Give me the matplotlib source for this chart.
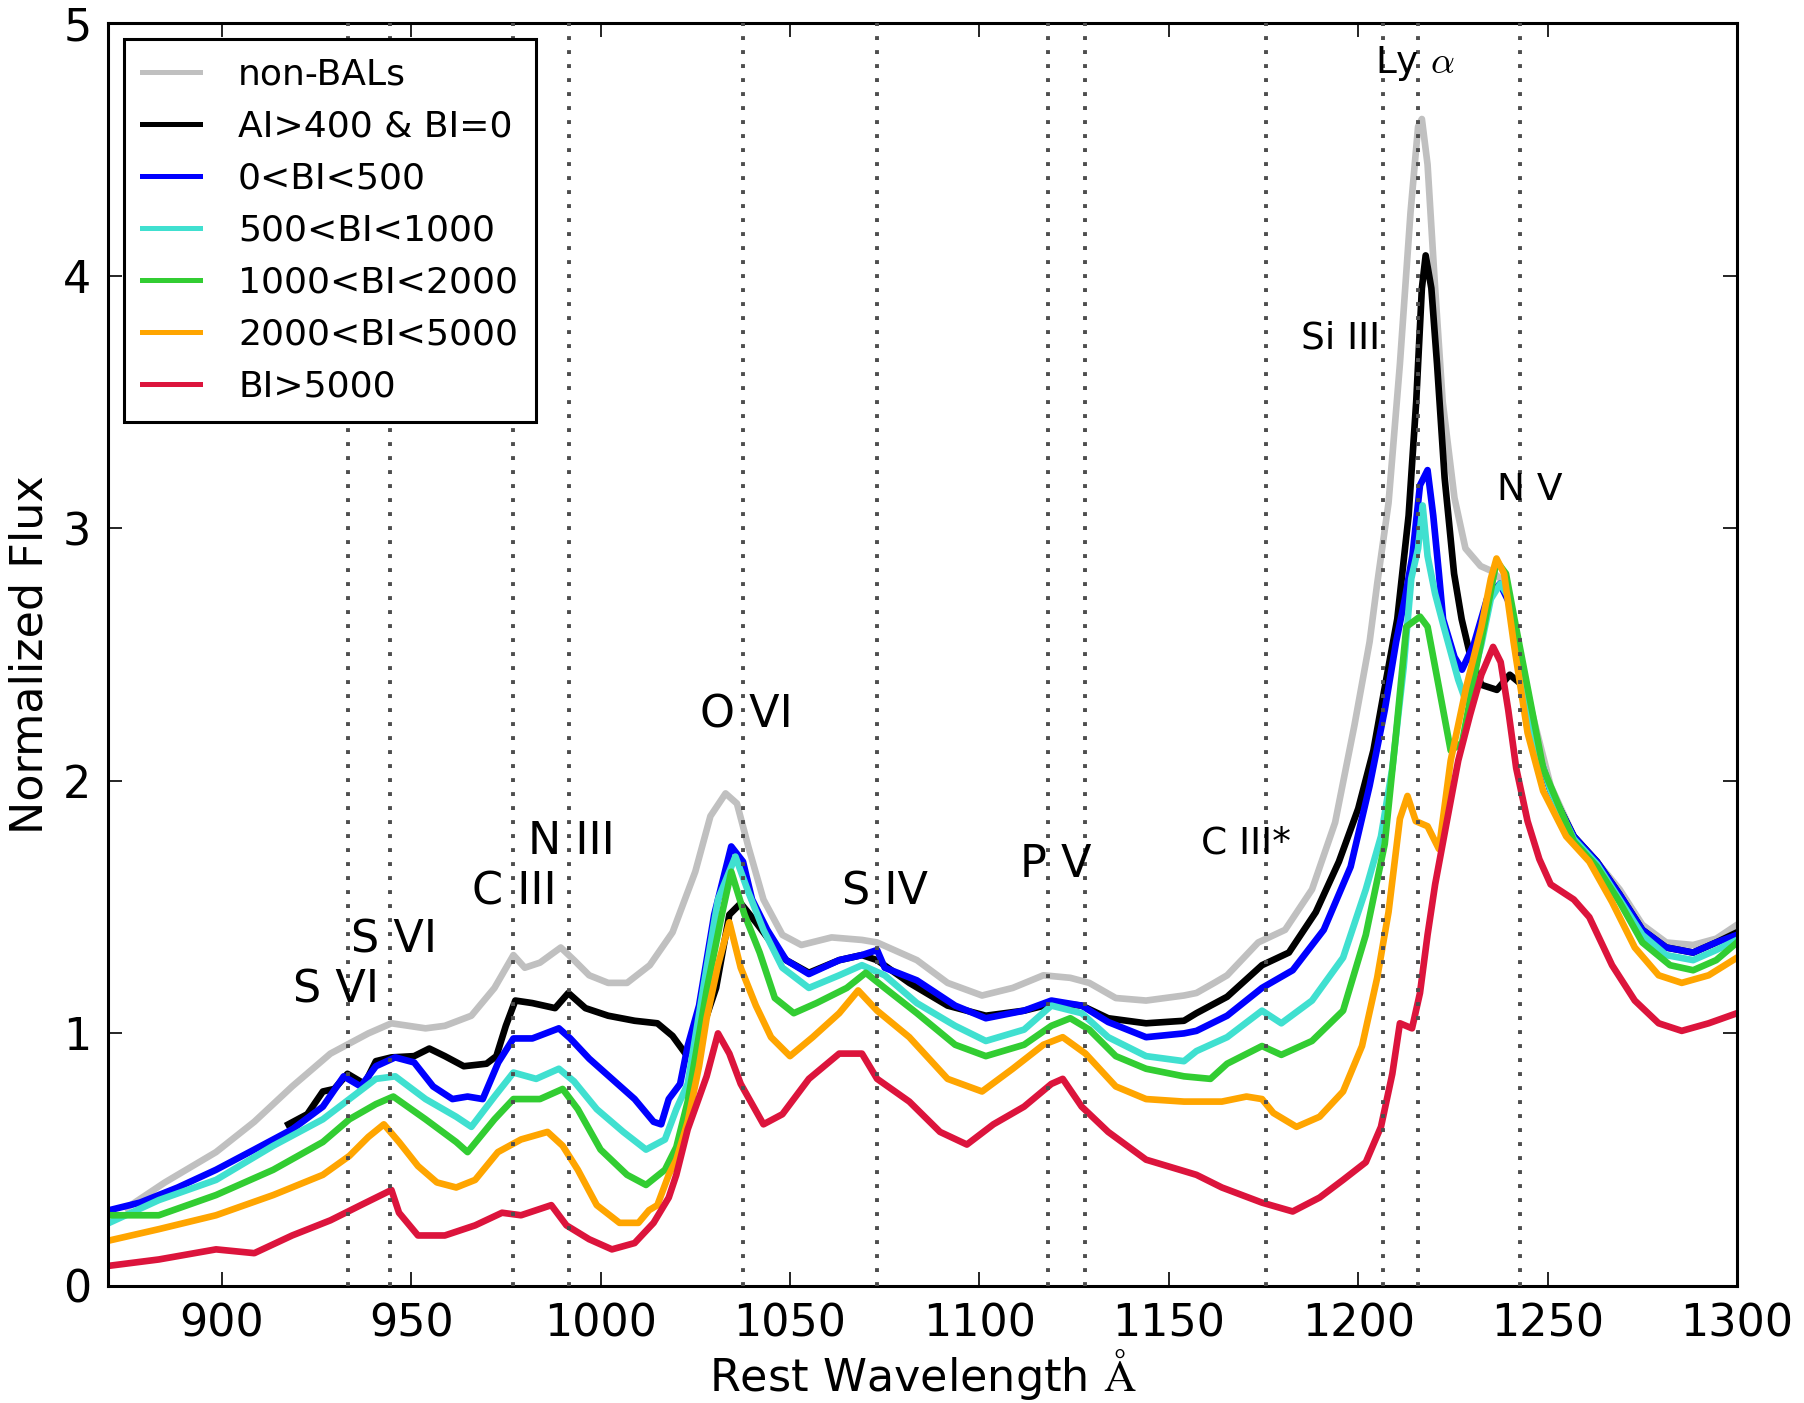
#!/usr/bin/python3
import numpy as np
import matplotlib
matplotlib.use('Agg')
import matplotlib.pyplot as plt

plt.rcParams['font.family'] = 'DejaVu Sans'
plt.rcParams['xtick.labelsize'] = 16
plt.rcParams['ytick.labelsize'] = 16
plt.rcParams['axes.labelsize'] = 16
plt.rcParams['xtick.direction'] = 'in'
plt.rcParams['ytick.direction'] = 'in'

# composite spectra, rest wavelength (A) vs normalized flux
wave_nonbal = [875, 885, 898.5, 908.6, 918.6, 928.7, 938.7, 944.8, 953.8, 958.9, 965.9, 972, 977, 980,
               984, 989.5, 993, 997, 1002, 1007, 1013, 1019, 1025, 1029, 1033, 1036, 1039, 1043, 1048,
               1053, 1061, 1069, 1073, 1083.5, 1091.6, 1100.7, 1108.8, 1116.9, 1124, 1129, 1136, 1144,
               1154, 1157.3, 1162, 1165.4, 1173.6, 1180.7, 1187.8, 1193.9, 1199, 1203, 1205, 1208, 1211,
               1213.8, 1215.8, 1216.8, 1218.3, 1220.3, 1222.3, 1225.4, 1228.3, 1232.3, 1235.3, 1239,
               1242, 1245.7, 1250.8, 1256.9, 1263, 1269, 1275, 1281.3, 1288.4, 1294.5, 1300]
flux_nonbal = [0.31, 0.41, 0.53, 0.65, 0.79, 0.92, 1.00, 1.04, 1.02, 1.03, 1.07, 1.18, 1.31, 1.26,
               1.28, 1.34, 1.29, 1.23, 1.20, 1.20, 1.27, 1.40, 1.64, 1.86, 1.95, 1.91, 1.74, 1.53, 1.39,
               1.35, 1.38, 1.37, 1.36, 1.29, 1.20, 1.15, 1.18, 1.23, 1.22, 1.20, 1.14, 1.13,
               1.15, 1.16, 1.20, 1.23, 1.36, 1.41, 1.57, 1.835, 2.22, 2.55, 2.78, 3.10, 3.65,
               4.25, 4.59, 4.62, 4.44, 3.95, 3.50, 3.12, 2.92, 2.85, 2.83, 2.78,
               2.55, 2.28, 1.98, 1.78, 1.68, 1.57, 1.43, 1.36, 1.35, 1.375, 1.43]

wave_ai = [917.6, 922.6, 926.7, 929.7, 933.2, 937.7, 940.7, 944.8, 950.8, 954.8, 958.9, 963.9, 969.9,
           972.5, 975, 977.5, 982, 988, 991.5, 996, 1002, 1009, 1015, 1019, 1022.4, 1026, 1030.5, 1034,
           1037, 1041, 1045, 1049, 1055, 1063, 1069, 1073, 1081.5, 1091.6, 1101.7, 1111.8, 1119.9, 1127,
           1134, 1144, 1154, 1157.3, 1165.4, 1174.6, 1181.7, 1188.8, 1194.9, 1200, 1204, 1207, 1210.3,
           1213.3, 1215.3, 1216.8, 1217.8, 1219.3, 1220.8, 1222.8, 1225.3, 1227.3, 1229.5, 1232.5,
           1236.6, 1240, 1243.2, 1245.7, 1250.8, 1256.9, 1263, 1269, 1275, 1281.3, 1288.4, 1294.5, 1300]
flux_ai = [0.64, 0.68, 0.77, 0.78, 0.84, 0.80, 0.89, 0.905, 0.91, 0.94, 0.91, 0.87, 0.88,
           0.91, 1.03, 1.13, 1.12, 1.10, 1.16, 1.10, 1.07, 1.05, 1.04, 0.99, 0.92, 0.98, 1.18, 1.47,
           1.515, 1.44, 1.36, 1.29, 1.24, 1.29, 1.31, 1.29, 1.20, 1.11, 1.07, 1.09, 1.12, 1.11,
           1.06, 1.04, 1.05, 1.08, 1.145, 1.27, 1.32, 1.48, 1.68, 1.89, 2.12, 2.37, 2.64,
           3.05, 3.50, 3.95, 4.08, 3.95, 3.65, 3.20, 2.82, 2.64, 2.50, 2.38,
           2.36, 2.42, 2.38, 2.19, 1.96, 1.78, 1.68, 1.55, 1.41, 1.34, 1.32, 1.36, 1.40]

wave_bi1 = [870.3, 878.4, 888.4, 898.5, 908.6, 918.6, 926.7, 932.2, 936.7, 940.7, 945.8, 950.8, 955.8,
            960.9, 964.9, 968.9, 973, 977, 982, 989, 992, 997, 1003, 1009, 1014, 1016, 1018, 1021, 1023,
            1026, 1030, 1034.5, 1037.6, 1040, 1044, 1049, 1055, 1063, 1069, 1073, 1075, 1083.5, 1093.6,
            1101.7, 1111.8, 1119, 1127, 1134, 1144, 1154, 1157.3, 1165.4, 1174.6, 1182.7, 1190.9, 1198,
            1203, 1207, 1210, 1212.3, 1214.3, 1216.3, 1218.3, 1219.8, 1221.3, 1222.4, 1225.4, 1227.4,
            1230.5, 1234, 1237.4, 1240, 1243, 1245.7, 1250.8, 1256.9, 1263, 1269, 1275, 1281.3, 1288.4,
            1294.5, 1300]
flux_bi1 = [0.30, 0.33, 0.39, 0.46, 0.54, 0.62, 0.71, 0.83, 0.79, 0.87, 0.905, 0.885, 0.79,
            0.74, 0.75, 0.74, 0.885, 0.98, 0.98, 1.02, 0.98, 0.90, 0.82, 0.74, 0.65, 0.64, 0.74, 0.80, 0.95,
            1.11, 1.47, 1.74, 1.68, 1.53, 1.41, 1.29, 1.235, 1.29, 1.31, 1.33, 1.26, 1.21, 1.11,
            1.06, 1.09, 1.13, 1.11, 1.045, 0.985, 1.00, 1.01, 1.07, 1.18, 1.25, 1.41, 1.66,
            1.98, 2.28, 2.55, 2.72, 2.89, 3.17, 3.23, 3.05, 2.82, 2.64, 2.49, 2.44,
            2.54, 2.72, 2.78, 2.70, 2.45, 2.19, 1.96, 1.78, 1.68, 1.55, 1.41, 1.34, 1.32,
            1.36, 1.39]

wave_bi2 = [870.3, 883.4, 898.5, 913.6, 926.7, 933.7, 940.7, 945.8, 953.8, 961.9, 965.9, 972, 977, 983,
            989, 993, 999, 1006, 1012, 1017, 1020, 1023, 1028, 1031, 1035.6, 1039, 1043, 1048, 1055,
            1063, 1069, 1075, 1083.5, 1093.6, 1101.7, 1111.8, 1119, 1127, 1134, 1144, 1154, 1157.3,
            1165.4, 1174.6, 1179.7, 1187.8, 1196, 1202, 1206, 1209, 1212, 1214, 1215.8, 1217, 1218.3,
            1220.3, 1222.4, 1226.4, 1228.5, 1232.5, 1235, 1237.5, 1240, 1243, 1245.7, 1250.8, 1256.9,
            1263, 1269, 1275, 1281.3, 1288.4, 1294.5, 1300]
flux_bi2 = [0.25, 0.34, 0.42, 0.555, 0.66, 0.74, 0.82, 0.83, 0.74, 0.67, 0.63, 0.75, 0.845, 0.82,
            0.86, 0.81, 0.70, 0.61, 0.54, 0.58, 0.70, 0.80, 1.26, 1.53, 1.70, 1.56, 1.41, 1.26, 1.18,
            1.23, 1.27, 1.23, 1.12, 1.03, 0.97, 1.015, 1.11, 1.08, 0.985, 0.91, 0.89, 0.93,
            0.985, 1.09, 1.04, 1.13, 1.30, 1.57, 1.78, 2.05, 2.45, 2.80, 2.92, 3.09, 2.89,
            2.74, 2.62, 2.40, 2.31, 2.54, 2.72, 2.78, 2.72, 2.45, 2.20, 1.96, 1.77,
            1.67, 1.53, 1.39, 1.31, 1.29, 1.33, 1.37]

wave_bi3 = [870.3, 883.4, 898.5, 913.6, 926.7, 933.7, 940.7, 945.3, 953.8, 961.9, 964.9, 972, 977, 984,
            990, 994, 1000, 1007, 1012, 1017, 1020, 1023, 1028, 1032, 1034.5, 1038, 1042, 1046, 1051,
            1057, 1065, 1070, 1075, 1083.5, 1093.6, 1101.7, 1111.8, 1119, 1124, 1129, 1136, 1144, 1154,
            1161, 1165.4, 1174.6, 1179.7, 1187.8, 1196, 1202, 1207, 1210, 1212.7, 1216.3, 1218.3,
            1221.3, 1224.4, 1227.4, 1230.5, 1234.6, 1236.5, 1239, 1241.5, 1244.7, 1248.8, 1256.9,
            1263, 1269, 1275, 1282.3, 1288.4, 1294.5, 1300]
flux_bi3 = [0.28, 0.28, 0.36, 0.46, 0.57, 0.66, 0.72, 0.75, 0.66, 0.57, 0.53, 0.66, 0.74, 0.74,
            0.78, 0.70, 0.54, 0.44, 0.40, 0.46, 0.55, 0.73, 1.17, 1.47, 1.64, 1.47, 1.32, 1.14, 1.08,
            1.12, 1.18, 1.24, 1.18, 1.08, 0.955, 0.91, 0.955, 1.03, 1.06, 1.015, 0.91, 0.86, 0.83,
            0.82, 0.88, 0.95, 0.915, 0.97, 1.09, 1.39, 1.75, 2.19, 2.61, 2.65, 2.61,
            2.37, 2.12, 2.15, 2.40, 2.72, 2.87, 2.82, 2.62, 2.37, 2.05, 1.76,
            1.66, 1.52, 1.36, 1.27, 1.25, 1.29, 1.36]

wave_bi4 = [870.3, 883.4, 898.5, 913.6, 926.7, 933.7, 938.7, 942.8, 946.8, 951.8, 956.8, 961.9, 966.9,
            972.9, 979, 986, 990, 994, 999, 1005, 1010, 1012.8, 1015, 1018, 1020, 1023, 1026, 1028,
            1031, 1034, 1037, 1041, 1045, 1050, 1056, 1063, 1068, 1073, 1081.5, 1091.6, 1100.7, 1108.8,
            1116.9, 1122, 1128, 1136, 1144, 1154, 1164, 1170.5, 1174.6, 1177.6, 1183.7, 1189.8, 1196,
            1201, 1205, 1208, 1211, 1213, 1215.2, 1218.3, 1221.3, 1224.4, 1228.5, 1232.5, 1235, 1236.5,
            1238.5, 1241, 1244.7, 1248.8, 1254.9, 1261, 1267, 1273, 1279.3, 1285.4, 1292.5, 1300]
flux_bi4 = [0.18, 0.225, 0.28, 0.36, 0.44, 0.515, 0.59, 0.64, 0.57, 0.475, 0.41, 0.39, 0.42,
            0.53, 0.58, 0.61, 0.555, 0.46, 0.32, 0.25, 0.25, 0.30, 0.32, 0.44, 0.50, 0.65, 0.87, 1.06,
            1.27, 1.44, 1.26, 1.11, 0.985, 0.91, 0.985, 1.08, 1.17, 1.09, 0.985, 0.82, 0.77, 0.86,
            0.955, 0.985, 0.92, 0.79, 0.74, 0.73, 0.73, 0.75, 0.74, 0.685, 0.63, 0.67, 0.77,
            0.95, 1.22, 1.48, 1.85, 1.94, 1.84, 1.82, 1.73, 2.08, 2.37, 2.61, 2.80, 2.88,
            2.82, 2.55, 2.19, 1.96, 1.78, 1.68, 1.52, 1.34, 1.23, 1.20, 1.23, 1.30]

wave_bi5 = [870.3, 883.4, 898.5, 908.6, 918.6, 928.7, 936.7, 944.8, 946.8, 951.8, 958.9, 966.9, 974, 979,
            987, 991, 997, 1003, 1009, 1014, 1018, 1020, 1023, 1028, 1031, 1034, 1037, 1043, 1048, 1055,
            1063, 1069, 1073, 1081.5, 1089.6, 1096.7, 1103.7, 1111.8, 1119, 1122, 1127, 1134, 1144, 1154,
            1157.3, 1164, 1174.6, 1182.7, 1189.8, 1196, 1202, 1206, 1209, 1211, 1214.2, 1216.3, 1218.3,
            1220.3, 1223.4, 1226.4, 1229.5, 1232.5, 1235.6, 1237.6, 1239.6, 1241.7, 1244.7, 1247.8,
            1250.8, 1256.9, 1261, 1267, 1273, 1279.3, 1285.4, 1292.5, 1300]
flux_bi5 = [0.08, 0.105, 0.145, 0.13, 0.20, 0.26, 0.32, 0.38, 0.29, 0.20, 0.20, 0.24, 0.29, 0.28,
            0.32, 0.24, 0.185, 0.145, 0.17, 0.25, 0.35, 0.44, 0.62, 0.83, 1.00, 0.92, 0.80, 0.64, 0.68, 0.82,
            0.92, 0.92, 0.82, 0.73, 0.61, 0.56, 0.64, 0.71, 0.80, 0.82, 0.71, 0.61, 0.50, 0.455,
            0.44, 0.39, 0.33, 0.295, 0.35, 0.42, 0.49, 0.63, 0.84, 1.04, 1.02, 1.16, 1.39,
            1.59, 1.84, 2.08, 2.26, 2.42, 2.53, 2.47, 2.28, 2.05, 1.84, 1.69,
            1.59, 1.53, 1.46, 1.27, 1.13, 1.04, 1.01, 1.04, 1.08]

series = [
    (wave_nonbal, flux_nonbal, 'silver', 'non-BALs'),
    (wave_ai, flux_ai, 'black', 'AI>400 & BI=0'),
    (wave_bi1, flux_bi1, 'blue', '0<BI<500'),
    (wave_bi2, flux_bi2, 'turquoise', '500<BI<1000'),
    (wave_bi3, flux_bi3, 'limegreen', '1000<BI<2000'),
    (wave_bi4, flux_bi4, 'orange', '2000<BI<5000'),
    (wave_bi5, flux_bi5, 'crimson', 'BI>5000'),
]

# line identifications: marker wavelengths, and label text with its position
line_waves = [933.4, 944.5, 977.0, 991.6, 1037.6, 1073.0, 1118.0, 1128.0, 1175.7, 1206.5, 1215.7, 1242.8]
line_names = ['S VI', 'S VI', 'C III', 'N III', 'O VI', 'S IV', 'P V', 'C III*', 'Si III',
              r'Ly $\alpha$', 'N V']
label_x = [930.2, 945.4, 977.3, 992.2, 1038.6, 1075.1, 1120.1, 1170.5, 1195.4, 1214.9, 1245.3]
label_y = [1.17, 1.37, 1.56, 1.76, 2.26, 1.56, 1.67, 1.75, 3.75, 4.84, 3.15]
label_size = [16, 16, 16, 16, 16, 16, 16, 13.5, 13.5, 13.5, 13.5]

fig = plt.figure(figsize=(9.02, 7.015), dpi=200)
ax = fig.add_axes([0.0599, 0.0834, 0.903, 0.9002])

for w, f, c, lab in series:
    ax.plot(w, f, color=c, lw=2.4, label=lab, zorder=2)

for lw_ in line_waves:
    ax.axvline(lw_, color='0.3', lw=1.4, ls=(0, (1, 2.6)), zorder=3)

for name, x, y, s in zip(line_names, label_x, label_y, label_size):
    ax.text(x, y, name, fontsize=s, ha='center', va='center', math_fontfamily='cm', zorder=4)

ax.set_xlim(870, 1300)
ax.set_ylim(0, 5)
ax.set_xticks(np.arange(900, 1301, 50))
ax.set_yticks(np.arange(0, 6, 1))
ax.tick_params(top=True, right=True, length=5, width=0.6, pad=6)
for sp in ax.spines.values():
    sp.set_linewidth(1.1)

ax.set_xlabel(r'Rest Wavelength $\mathrm{\AA}$', math_fontfamily='cm', labelpad=0)
ax.set_ylabel('Normalized Flux', labelpad=4)

leg = ax.legend(loc='upper left', fontsize=13, fancybox=False, framealpha=1,
                handlelength=1.6, handletextpad=1.05, labelspacing=0.5, borderpad=0.5,
                borderaxespad=0.45)
leg.get_frame().set_edgecolor('black')
leg.get_frame().set_linewidth(1.1)
for h in leg.get_lines():
    h.set_linewidth(1.8)
leg.set_zorder(5)

fig.savefig('out.png', dpi=200)
